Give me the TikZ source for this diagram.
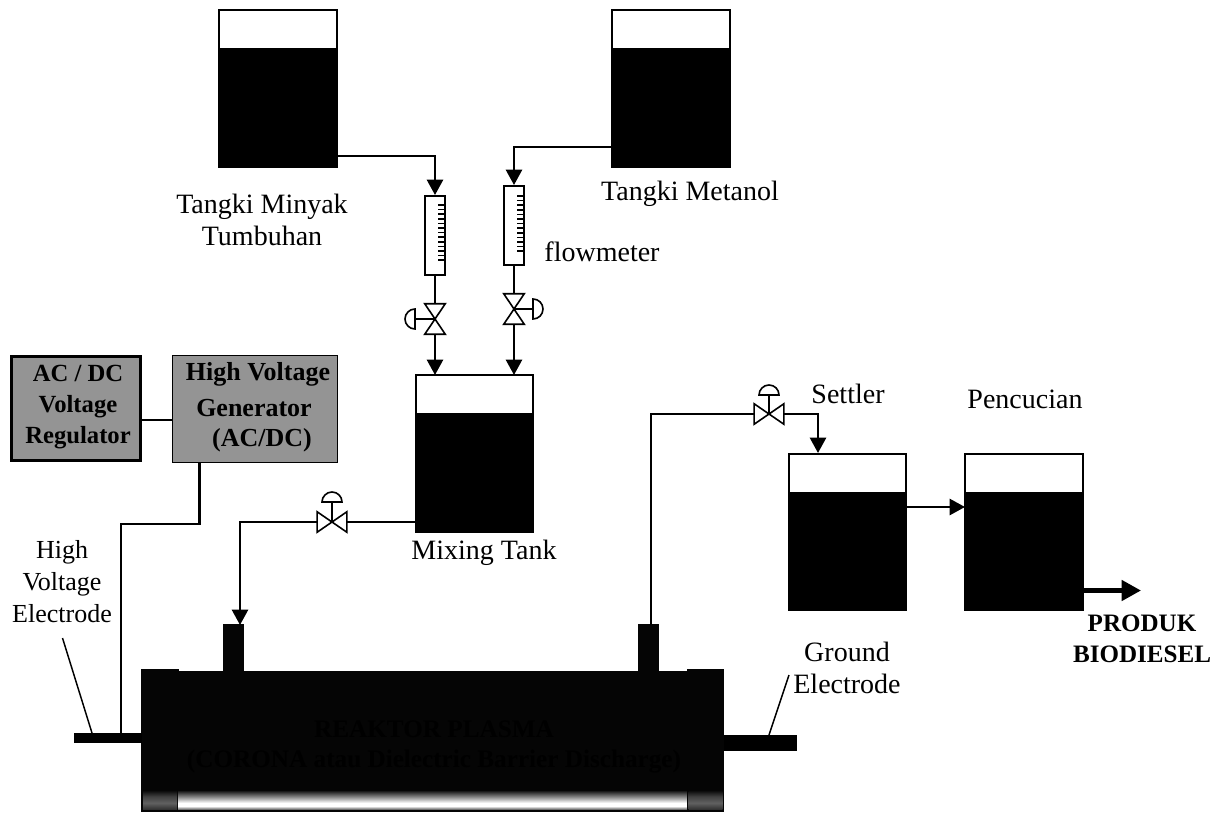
\documentclass[tikz,border=0pt]{standalone}
\usepackage{fontspec}
\setmainfont{Liberation Serif}
\usetikzlibrary{arrows.meta}

\pgfdeclareverticalshading{tubeshade}{100bp}{color(0bp)=(black!55); color(25bp)=(black!55); color(33bp)=(white); color(42bp)=(white); color(60bp)=(black!50); color(75bp)=(black!90); color(100bp)=(black!90)}
\pgfdeclareverticalshading{capshade}{100bp}{color(0bp)=(black!80); color(25bp)=(black!80); color(42bp)=(black!62); color(60bp)=(black!75); color(75bp)=(black!95); color(100bp)=(black!95)}

\newcommand{\valveV}[1]{\draw[valveline,fill=white] (#1.north west) -- (#1.north east) -- (#1.south west) -- (#1.south east) -- cycle;}
\newcommand{\valveH}[1]{\draw[valveline,fill=white] (#1.north west) -- (#1.south west) -- (#1.north east) -- (#1.south east) -- cycle;}

\begin{document}
\begin{tikzpicture}[x=0.75pt,y=-0.75pt,
  every node/.style={font=\fontsize{21}{24}\selectfont, align=center},
  tank/.style={draw, line width=1.7pt, fill=black, minimum width=88pt, minimum height=117.5pt, inner sep=0pt,
    path picture={\fill[white] (path picture bounding box.north west) rectangle ([yshift=-28.5pt]path picture bounding box.north east);}},
  flowmeter/.style={draw, line width=1.7pt, fill=white, minimum width=14.5pt, minimum height=59pt, inner sep=0pt},
  valvev/.style={minimum width=15pt, minimum height=22.5pt, inner sep=0pt},
  valveh/.style={minimum width=22pt, minimum height=15pt, inner sep=0pt},
  valveline/.style={line width=1.2pt},
  pipe/.style={line width=1.9pt},
  flow/.style={pipe, -{Triangle[length=11.5pt,width=12pt]}},
  wire/.style={line width=1.9pt},
  thinline/.style={line width=1.1pt},
  tick/.style={line width=1.1pt},
  greybox/.style={draw, fill=black!42, inner sep=0pt},
  boxtext/.style={font=\fontsize{19.5}{24}\bfseries\selectfont},
  solid black/.style={fill=black!98, inner sep=0pt}
]
\useasboundingbox (0,0) rectangle (1226,813);

% Tanks
\node[tank] (tankoil) at (278,88.5) {};
\node[tank] (tankmeth) at (671,88.5) {};
\node[tank] (mixing) at (474.5,453.5) {};
\node[tank] (settler) at (847.5,532) {};
\node[tank] (wash) at (1024,532) {};

% Flowmeters and valves
\node[flowmeter] (fmoil) at (435,235.5) {};
\node[flowmeter] (fmmeth) at (514,225.5) {};
\node[valvev] (valveoil) at (435,319) {};
\node[valvev] (valvemeth) at (514,309) {};
\node[valveh] (valvemix) at (332,522) {};
\node[valveh] (valveout) at (769,414) {};

\foreach \i in {0,...,12} {
  \draw[tick] (438,{205+4.6*\i}) -- (444,{205+4.6*\i});
  \draw[tick] (517,{196+4.6*\i}) -- (523,{196+4.6*\i});
}

% Reactor
\node[solid black, minimum width=382pt, minimum height=106pt] (reactor) at (432.5,741.5) {};
\node[solid black, minimum width=28pt, minimum height=107.5pt] (capleft) at (160,740.5) {};
\node[solid black, minimum width=28pt, minimum height=107.5pt] (capright) at (705.5,740.5) {};
\node[solid black, minimum width=15.5pt, minimum height=36pt] (stubleft) at (233.5,648) {};
\node[solid black, minimum width=15.5pt, minimum height=36pt] (stubright) at (648.5,648) {};
\node[fill=black, inner sep=0pt, minimum width=51pt, minimum height=7.5pt] (electrodeleft) at (108,738) {};
\node[fill=black, inner sep=0pt, minimum width=55pt, minimum height=12pt] (electroderight) at (760.5,743) {};
\node[inner sep=0pt, shading=tubeshade, minimum width=381.5pt, minimum height=13.5pt] (tube) at (432.5,800) {};
\node[inner sep=0pt, shading=capshade, minimum width=25.5pt, minimum height=13.5pt] (tubeleft) at (160,800) {};
\node[inner sep=0pt, shading=capshade, minimum width=25.5pt, minimum height=13.5pt] (tuberight) at (705.5,800) {};
\node[font=\fontsize{18.9}{22.5}\bfseries\selectfont, text=black] (reactorlabel) at (434,747) {REAKTOR PLASMA\\(CORONA atau Dielectric Barrier Discharge)};

% Electric boxes
\node[greybox, line width=2.2pt, minimum width=97pt, minimum height=78.5pt] (regulator) at (76,408.5) {};
\node[greybox, line width=1.1pt, minimum width=124pt, minimum height=80pt] (generator) at (255,409) {};
\node[boxtext, font=\fontsize{18.5}{23.5}\bfseries\selectfont] (regulatorlabel) at (78,407) {AC / DC\\Voltage\\Regulator};
\node[boxtext] (genline1) at (258,374) {High Voltage};
\node[boxtext] (genline2) at (254,408) {Generator};
\node[boxtext] (genline3) at (262,440) {(AC/DC)};

% Pipes
\coordinate (oilout) at (337,156);
\coordinate (methout) at (612,147);
\coordinate (oilin) at (435,375);
\coordinate (methin) at (514,375);
\coordinate (mixout) at (415,522);
\coordinate (settlerin) at (818,453);
\coordinate (settlerout) at (907,507);
\coordinate (washin) at (965,507);
\coordinate (washout) at (1083,590.5);
\coordinate (product) at (1141,590.5);
\coordinate (reactorin) at (240,625);
\coordinate (reactorout) at (651,625);
\draw[flow] (oilout) -| (fmoil.north);
\draw[flow] (methout) -| (fmmeth.north);
\draw[pipe] (fmoil.south) -- (valveoil.north);
\draw[pipe] (fmmeth.south) -- (valvemeth.north);
\draw[flow] (valveoil.south) -- (oilin);
\draw[flow] (valvemeth.south) -- (methin);
\draw[flow] (mixout) -- (valvemix.east) -- (valvemix.west) -| (reactorin);
\draw[pipe] (reactorout) |- (valveout.west);
\draw[flow] (valveout.east) -| (settlerin);
\draw[flow] (settlerout) -- (washin);
\draw[line width=3.4pt, -{Triangle[length=14.5pt,width=15pt]}] (washout) -- (product);

% Valve bodies
\valveV{valveoil}
\valveV{valvemeth}
\valveH{valvemix}
\valveH{valveout}
\draw[valveline] (valveoil.center) -- (415,319);
\draw[valveline] (415,309) arc (90:270:7.5pt) -- cycle;
\draw[valveline] (valvemeth.center) -- (533,309);
\draw[valveline] (533,299) arc (90:-90:7.5pt) -- cycle;
\draw[valveline] (valvemix.center) -- (332,502);
\draw[valveline] (322,502) arc (180:0:7.5pt) -- cycle;
\draw[valveline] (valveout.center) -- (769,395);
\draw[valveline] (759,395) arc (180:0:7.5pt) -- cycle;

% Wires
\coordinate (regout) at (142,420);
\coordinate (genin) at (172,420);
\coordinate (genout) at (199.5,463);
\coordinate (hvin) at (121,733);
\coordinate (hvtag) at (62.5,638);
\coordinate (hvend) at (92,733);
\coordinate (gndtag) at (789,675);
\coordinate (gndend) at (769,735);
\draw[wire] (regout) -- (genin);
\draw[wire] (genout) -- (199.5,524) -| (hvin);
\draw[thinline] (hvtag) -- (hvend);
\draw[thinline] (gndtag) -- (gndend);

% Labels
\node (oillabel) at (262,220) {Tangki Minyak\\Tumbuhan};
\node (methlabel) at (690,194) {Tangki Metanol};
\node (fmlabel) at (602,252) {flowmeter};
\node (mixlabel) at (484,553) {Mixing Tank};
\node (settlerlabel) at (848,394) {Settler};
\node (washlabel) at (1025,399) {Pencucian};
\node[font=\fontsize{19.5}{24}\selectfont] (hvlabel) at (62,582) {High\\Voltage\\Electrode};
\node (gndlabel) at (847,668) {Ground\\Electrode};
\node[font=\fontsize{18.8}{23.3}\bfseries\selectfont] (productlabel) at (1142,639) {PRODUK\\BIODIESEL};

\end{tikzpicture}
\end{document}
